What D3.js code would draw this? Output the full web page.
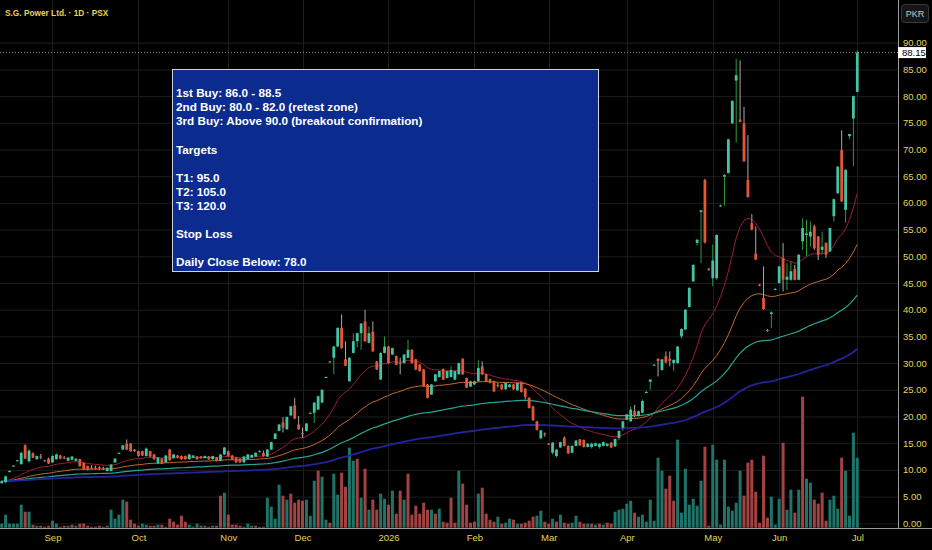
<!DOCTYPE html>
<html><head><meta charset="utf-8">
<script src="https://cdn.jsdelivr.net/npm/d3@7"></script>
<style>
html,body{margin:0;padding:0;background:#000;}
svg{display:block;}
</style></head><body>
<svg id="chart" width="932" height="550"></svg>
<script>
// ---------- DATA ----------
const opens=[
7.5,7.7,9.6,10.7,11.7,11.1,14.6,11.6,13.1,12.0,
12.5,11.8,12.1,11.4,12.0,12.7,12.3,11.7,11.9,11.7,
12.0,11.3,10.7,10.4,10.4,10.5,10.3,9.8,9.8,11.4,
13.1,13.8,14.9,14.9,13.8,13.5,13.5,12.6,13.5,12.9,
11.2,12.1,11.4,13.8,12.2,12.7,12.6,12.6,12.0,12.3,
12.5,12.5,12.2,12.5,12.0,12.3,11.7,12.9,13.5,12.7,
12.3,12.1,11.4,12.0,12.3,12.5,13.4,13.2,12.5,13.8,
15.8,17.3,18.9,17.6,20.2,22.1,18.5,16.9,17.3,20.6,
20.7,21.3,22.6,27.3,30.2,31.0,33.1,36.6,30.7,26.6,
31.9,34.1,35.6,37.8,33.8,35.9,30.3,26.9,31.9,33.1,
31.6,31.3,30.1,30.0,31.0,32.5,30.7,29.7,28.8,26.0,
24.1,26.6,27.4,28.9,27.2,27.4,26.9,27.9,30.8,27.2,
25.6,26.0,26.6,29.4,27.9,27.0,26.6,25.9,26.0,25.1,
25.5,26.0,24.9,26.4,25.2,23.5,21.9,19.1,15.9,16.8,
14.9,13.2,12.6,14.2,16.0,14.5,13.2,14.5,15.7,15.6,
14.3,14.3,14.5,14.3,14.5,14.5,15.1,14.4,16.0,17.9,
19.4,19.1,21.0,20.1,20.7,24.4,26.5,29.6,30.8,28.7,
31.3,30.8,30.0,30.0,35.0,36.3,40.5,45.3,52.5,58.3,
64.3,47.7,45.9,45.9,59.4,64.9,65.6,74.9,82.9,75.6,
74.9,64.3,56.2,50.5,44.7,42.2,36.2,39.2,43.8,45.0,
49.7,45.6,45.6,47.6,45.6,52.8,54.0,53.7,55.6,53.7,
51.2,52.5,50.9,57.5,61.8,69.9,58.7,72.5,75.8,80.8];
const highs=[
8.0,8.9,9.9,10.9,11.9,13.4,14.8,13.9,13.3,12.7,
13.0,11.9,12.3,12.8,13.1,12.8,12.6,12.4,12.6,12.2,
12.1,11.4,10.8,10.9,10.8,10.7,10.6,10.5,11.1,12.2,
13.3,14.7,15.7,15.0,13.9,13.6,13.6,14.2,13.6,13.0,
12.4,12.2,12.8,13.9,13.0,12.8,12.7,12.7,13.0,12.8,
12.6,12.6,12.7,12.6,12.7,12.4,13.0,14.3,13.6,12.8,
12.4,12.2,12.6,13.0,12.9,13.3,13.7,13.6,13.9,15.3,
16.9,18.6,19.9,20.0,22.0,23.5,20.1,17.9,18.8,20.8,
22.7,23.9,25.1,27.5,30.4,33.2,36.7,39.1,34.1,31.1,
35.6,35.7,37.5,40.0,36.9,37.8,30.4,32.0,35.0,33.2,
32.9,31.4,31.0,31.7,34.4,32.6,30.8,29.8,28.9,26.1,
26.1,28.0,28.6,29.0,28.6,29.4,28.6,30.1,30.9,27.3,
26.7,26.7,30.5,30.3,28.0,27.1,26.7,26.3,26.1,26.4,
26.1,26.1,26.4,26.5,25.3,23.6,22.0,19.2,17.5,17.0,
15.0,15.2,13.9,15.3,16.3,14.6,14.6,15.6,15.8,15.7,
15.0,15.1,15.1,15.0,15.3,15.0,15.2,15.9,17.4,19.2,
20.5,21.9,22.2,21.1,23.2,24.8,27.0,29.8,30.9,30.8,
32.2,32.2,30.7,33.2,36.5,40.1,44.2,48.5,53.3,58.7,
64.5,47.8,52.2,54.1,59.7,65.4,72.0,79.2,87.0,86.7,
78.0,72.7,57.9,55.6,44.8,48.1,36.4,39.7,44.1,48.2,
52.5,48.7,49.0,48.4,50.4,57.1,56.8,56.5,55.9,53.8,
54.6,52.6,55.4,60.8,66.9,73.6,66.3,72.9,80.1,88.6];
const lows=[
7.4,7.5,9.5,10.6,11.6,10.9,12.0,11.4,12.2,11.9,
12.0,11.6,11.1,11.3,11.9,12.0,12.0,11.6,11.8,11.6,
10.6,10.0,9.9,10.1,10.1,10.0,10.0,9.7,9.7,11.3,
13.0,13.7,13.7,13.4,13.4,12.5,12.6,12.5,12.4,11.9,
11.1,11.1,11.3,11.7,12.1,12.2,11.9,11.9,11.9,12.2,
11.9,12.1,12.1,11.9,11.9,11.6,11.6,12.8,12.5,11.9,
11.3,11.3,11.3,11.9,12.2,12.4,13.3,12.5,12.4,13.7,
15.7,17.2,17.0,17.5,20.1,19.5,17.5,16.0,17.2,20.5,
18.8,21.2,22.5,27.2,30.1,27.9,33.0,32.7,29.4,26.5,
31.8,33.0,32.5,34.0,33.7,32.1,28.7,26.8,31.8,29.9,
31.5,29.6,27.9,29.9,30.9,29.9,28.7,28.4,25.6,23.4,
24.0,26.5,27.3,26.8,27.1,27.3,26.8,27.8,27.8,25.3,
25.5,25.9,26.5,27.8,26.5,26.2,24.6,25.4,25.0,25.0,
25.4,25.0,24.8,24.5,23.2,21.5,19.2,17.4,15.8,16.2,
14.7,12.9,12.3,14.1,14.4,13.0,13.1,14.4,14.5,14.2,
14.2,14.0,14.4,14.0,14.4,14.4,14.1,14.3,15.6,17.3,
19.3,19.0,19.9,20.0,20.6,24.3,25.0,29.5,27.5,28.6,
30.0,29.4,28.5,29.9,34.6,36.2,40.4,45.2,52.0,48.7,
52.4,47.3,44.4,45.6,59.3,59.5,65.5,74.8,71.3,75.1,
67.7,61.0,54.9,49.3,44.4,40.0,35.9,36.6,43.7,44.9,
43.4,43.7,45.4,45.5,45.5,51.2,50.0,51.8,51.2,49.3,
50.3,49.7,50.8,56.5,61.7,60.2,56.3,71.9,66.9,80.7];
const closes=[
7.9,8.8,9.8,10.8,11.8,13.2,12.1,13.6,12.3,12.6,
12.45,11.7,11.2,12.6,12.9,12.1,12.25,12.3,12.5,12.1,
10.7,10.1,10.0,10.35,10.35,10.3,10.25,10.4,11.0,12.1,
13.2,14.6,13.8,13.5,13.5,12.6,12.7,14.0,12.5,12.0,
12.3,11.2,12.7,11.8,12.9,12.3,12.0,12.0,12.9,12.7,
12.0,12.2,12.6,12.0,12.6,11.7,12.9,14.2,12.6,12.0,
11.4,11.4,12.5,12.9,12.8,13.2,13.5,12.6,13.8,15.2,
16.8,18.5,17.9,19.9,21.9,19.6,17.6,16.7,18.7,20.7,
22.6,23.8,25.0,27.4,30.3,33.1,36.6,32.8,29.5,31.0,
34.1,35.6,37.4,34.1,35.6,32.2,28.8,31.9,33.1,30.0,
32.8,29.7,30.0,31.6,32.5,30.0,28.8,28.5,25.7,23.5,
26.0,27.9,28.5,26.9,28.5,28.7,28.5,30.0,27.9,25.4,
26.6,26.6,29.1,27.9,26.6,26.3,24.7,25.8,25.1,26.3,
26.0,25.1,26.3,24.6,23.7,21.6,19.3,17.5,17.4,16.7,
14.8,15.1,13.8,15.2,14.5,13.1,14.5,15.5,14.6,14.3,
14.9,14.9,15.0,14.9,15.2,14.9,14.2,15.8,17.3,19.1,
20.4,21.3,20.1,21.0,22.9,24.6,26.9,29.7,30.4,30.7,
30.1,30.4,30.6,33.1,36.4,40.0,44.1,48.4,53.1,58.6,
52.6,47.5,49.2,54.0,59.5,65.2,71.9,79.1,83.9,75.2,
67.8,61.1,55.0,49.4,44.5,40.1,36.0,39.5,43.9,48.1,
45.6,46.2,47.2,45.6,50.3,55.3,54.3,54.6,51.5,50.3,
51.8,50.3,55.3,60.7,66.8,60.3,66.2,72.9,80.0,88.15];
const volumes=[
0.4,1.3,0.4,0.4,0.4,2.3,1.6,1.6,0.3,0.2,
0.2,0.1,0.2,0.7,0.4,0.1,0.2,0.2,0.3,0.2,
0.4,0.4,0.2,0.1,0.1,0.2,0.1,0.2,1.8,0.9,
1.3,2.8,2.6,0.8,0.4,0.2,0.4,0.3,0.2,0.2,
0.3,0.3,0.1,0.9,0.6,0.3,1.2,0.6,0.3,0.1,
0.4,0.2,0.2,0.1,0.2,0.2,3.2,3.5,1.3,0.3,
0.3,0.2,0.1,0.4,0.2,0.2,0.1,0.1,3.0,2.1,
0.9,4.3,3.2,2.8,3.4,2.5,2.8,2.7,2.8,1.2,
4.7,5.7,5.1,0.8,0.5,5.4,3.3,5.5,4.1,8.0,
6.7,6.9,3.0,5.9,1.8,2.8,1.8,3.4,2.9,2.3,
3.7,1.4,3.7,2.8,5.4,1.3,2.2,1.4,2.5,1.8,
1.8,1.4,1.9,0.6,0.5,3.0,0.5,5.7,4.4,2.3,
0.5,0.6,3.4,4.0,1.4,0.8,0.6,1.1,0.4,0.5,
0.9,0.8,0.4,0.4,0.5,0.7,1.1,1.2,1.7,0.6,
0.4,0.9,0.6,1.3,0.5,0.4,0.5,1.2,0.6,0.4,
0.4,0.4,0.3,0.4,0.3,0.5,0.4,1.6,1.8,1.9,
2.4,2.7,1.5,1.1,1.3,0.6,2.8,0.7,7.0,5.7,
3.9,5.2,2.7,8.8,1.5,5.9,2.3,2.9,2.2,4.7,
8.1,0.2,8.3,6.8,0.3,6.8,2.1,1.7,2.5,5.7,
3.2,6.5,6.8,3.6,0.5,7.2,1.0,3.1,0.3,2.9,
8.5,1.8,3.8,1.5,3.8,13.1,4.9,4.5,2.8,2.4,
3.5,0.7,2.8,3.2,1.9,7.0,5.7,1.2,9.5,7.0];
const volumeUp=[
1,1,1,1,1,1,0,1,0,1, 0,0,0,1,1,0,0,1,0,1,
0,0,0,0,0,0,0,1,1,1, 1,1,0,0,0,0,1,1,0,0,
1,0,1,0,0,0,0,0,1,1, 1,0,1,0,1,0,0,1,0,0,
0,0,1,1,1,0,1,0,1,1, 1,1,0,1,0,0,0,0,1,1,
1,0,1,1,0,1,1,0,0,1, 1,0,1,0,1,0,0,1,1,0,
1,0,0,1,0,0,0,0,0,0, 1,0,1,0,0,0,0,1,0,0,
0,0,1,0,0,0,0,1,0,1, 1,0,1,0,0,0,0,1,1,0,
0,1,0,1,0,0,1,1,0,0, 1,0,1,0,1,0,0,1,1,1,
1,1,0,1,1,1,1,1,1,1, 0,0,0,1,1,1,1,1,1,1,
0,0,1,1,1,1,1,1,1,1, 0,0,0,0,0,0,0,1,1,1,
0,1,1,0,1,0,1,1,0,0, 0,0,1,1,1,0,1,1,1,1];
const priceTicks=[0,5,10,15,20,25,30,35,40,45,50,55,60,65,70,75,80,85,90];
const monthLabels=["Sep","Oct","Nov","Dec","2026","Feb","Mar","Apr","May","Jun","Jul"];
const monthIndex=[13,35,58,77,99,121,140,160,182,199,219];
const emaPeriods=[20,50,100,200];
const emaColors=["#9a1e34","#c2692c","#2aa390","#24249a"];
const emaWidths=[1,1,1.2,1.8];
const noteLines=["1st Buy: 86.0 - 88.5","2nd Buy: 80.0 - 82.0 (retest zone)","3rd Buy: Above 90.0 (breakout confirmation)","","Targets","","T1: 95.0","T2: 105.0","T3: 120.0","","Stop Loss","","Daily Close Below: 78.0"];
const titleText="S.G. Power Ltd. · 1D · PSX";
const currency="PKR";
const lastPrice=88.15;

// ---------- CHART ----------
const W=932,H=550,plotR=898,plotB=528;
const svg=d3.select("#chart");
svg.append("rect").attr("width",W).attr("height",H).attr("fill","#000");

const x=d3.scaleLinear().domain([0,opens.length-1]).range([1.7,857.3]);
const y=d3.scaleLinear().domain([0,90]).range([523.3,42.7]);
const yv=d3.scaleLinear().domain([0,10]).range([527.7,427.7]);

svg.append("defs").append("clipPath").attr("id","plot")
  .append("rect").attr("x",0).attr("y",0).attr("width",plotR).attr("height",plotB);

const grid=svg.append("g").attr("clip-path","url(#plot)");
grid.selectAll("line.h").data(priceTicks).join("line").attr("class","h")
  .attr("x1",0).attr("x2",plotR).attr("y1",d=>y(d)+0.5).attr("y2",d=>y(d)+0.5)
  .attr("stroke","#1d1d1d").attr("stroke-width",1);
grid.selectAll("line.v").data(monthIndex).join("line").attr("class","v")
  .attr("x1",d=>Math.round(x(d))+0.5).attr("x2",d=>Math.round(x(d))+0.5).attr("y1",0).attr("y2",plotB)
  .attr("stroke","#1d1d1d").attr("stroke-width",1);

const data=opens.map((o,i)=>({i,o,h:highs[i],l:lows[i],c:closes[i],v:volumes[i],vu:volumeUp[i]}));

const plot=svg.append("g").attr("clip-path","url(#plot)");
// volume
plot.append("g").selectAll("rect").data(data).join("rect")
  .attr("x",d=>x(d.i)-1.5).attr("width",3)
  .attr("y",d=>yv(d.v)).attr("height",d=>yv(0)-yv(d.v))
  .attr("fill",d=>d.vu?"#1e7468":"#a24242");

// EMAs
function ema(vals,p){const a=2/(p+1);let e=vals[0];return vals.map((v,i)=>i===0?e:(e=e+a*(v-e)));}
const line=d3.line().x((d,i)=>x(i)).y(d=>y(d));
emaPeriods.forEach((p,k)=>{
  plot.append("path").attr("d",line(ema(closes,p))).attr("fill","none")
    .attr("stroke",emaColors[k]).attr("stroke-width",emaWidths[k]);
});

// candles
const cg=plot.append("g");
cg.selectAll("line").data(data).join("line")
  .attr("x1",d=>x(d.i)).attr("x2",d=>x(d.i)).attr("y1",d=>y(d.h)).attr("y2",d=>y(d.l))
  .attr("stroke",d=>d.c>=d.o?"#2c9a3e":"#a9a9a9").attr("stroke-width",1);
cg.selectAll("rect").data(data).join("rect")
  .attr("x",d=>x(d.i)-1.4).attr("width",2.8)
  .attr("y",d=>y(Math.max(d.o,d.c)))
  .attr("height",d=>Math.max(1,Math.abs(y(d.o)-y(d.c))))
  .attr("fill",d=>d.c>=d.o?"#43c4a4":"#e4563a");

// last price dotted line
plot.append("line").attr("x1",0).attr("x2",plotR).attr("y1",y(lastPrice)).attr("y2",y(lastPrice))
  .attr("stroke","#8a8a8a").attr("stroke-width",1).attr("stroke-dasharray","1,2");

// axes
const fontAxis="'Liberation Sans Narrow','Liberation Sans',Arial,sans-serif";
const yAxis=svg.append("g").attr("transform",`translate(${plotR},0)`)
  .call(d3.axisRight(y).tickValues(priceTicks).tickFormat(d3.format(".2f")).tickSize(0).tickPadding(5));
yAxis.select(".domain").remove();
yAxis.selectAll("text").attr("fill","#e6d35a").attr("font-family",fontAxis).attr("font-size",9.5);

const xAxis=svg.append("g").attr("transform",`translate(0,${plotB})`)
  .call(d3.axisBottom(x).tickValues(monthIndex).tickFormat((d,i)=>monthLabels[i]).tickSize(0).tickPadding(6));
xAxis.select(".domain").remove();
xAxis.selectAll("text").attr("fill","#e6d35a").attr("font-family",fontAxis).attr("font-size",9.5);

svg.append("line").attr("x1",plotR+0.5).attr("x2",plotR+0.5).attr("y1",0).attr("y2",plotB)
  .attr("stroke","#9c9c9c").attr("stroke-width",1);
svg.append("line").attr("x1",0).attr("x2",W).attr("y1",plotB+0.5).attr("y2",plotB+0.5)
  .attr("stroke","#9c9c9c").attr("stroke-width",1);

// last price label
svg.append("rect").attr("x",plotR).attr("y",y(lastPrice)-5.5).attr("width",28).attr("height",11).attr("fill","#fff");
svg.append("text").attr("x",plotR+4).attr("y",y(lastPrice)).attr("dy","0.35em")
  .attr("fill","#000").attr("font-family",fontAxis).attr("font-size",9.5).text(d3.format(".2f")(lastPrice));

// currency button
svg.append("rect").attr("x",901.5).attr("y",4.5).attr("width",27).attr("height",18).attr("rx",3)
  .attr("fill","#161616").attr("stroke","#3a3a3a");
svg.append("text").attr("x",915).attr("y",13.5).attr("dy","0.35em").attr("text-anchor","middle")
  .attr("fill","#c8c8c8").attr("font-family","'Liberation Sans',Arial,sans-serif").attr("font-size",9).text(currency);

// title
svg.append("text").attr("x",5).attr("y",13).attr("dy","0.35em").attr("fill","#e6d35a")
  .attr("font-family","'Liberation Sans',Arial,sans-serif").attr("font-size",8.3).attr("font-weight","600").text(titleText);

// note box
svg.append("rect").attr("x",172.5).attr("y",69.5).attr("width",426).attr("height",202)
  .attr("fill","#0b2c8e").attr("stroke","#cfd3dc").attr("stroke-width",1);
svg.append("g").selectAll("text").data(noteLines).join("text")
  .attr("x",176).attr("y",(d,i)=>93.3+14.05*i).attr("dy","0.35em")
  .attr("fill","#ffffff").attr("font-family","'Liberation Sans',Arial,sans-serif")
  .attr("font-size",11.7).attr("font-weight","bold").text(d=>d);
</script>
</body></html>
